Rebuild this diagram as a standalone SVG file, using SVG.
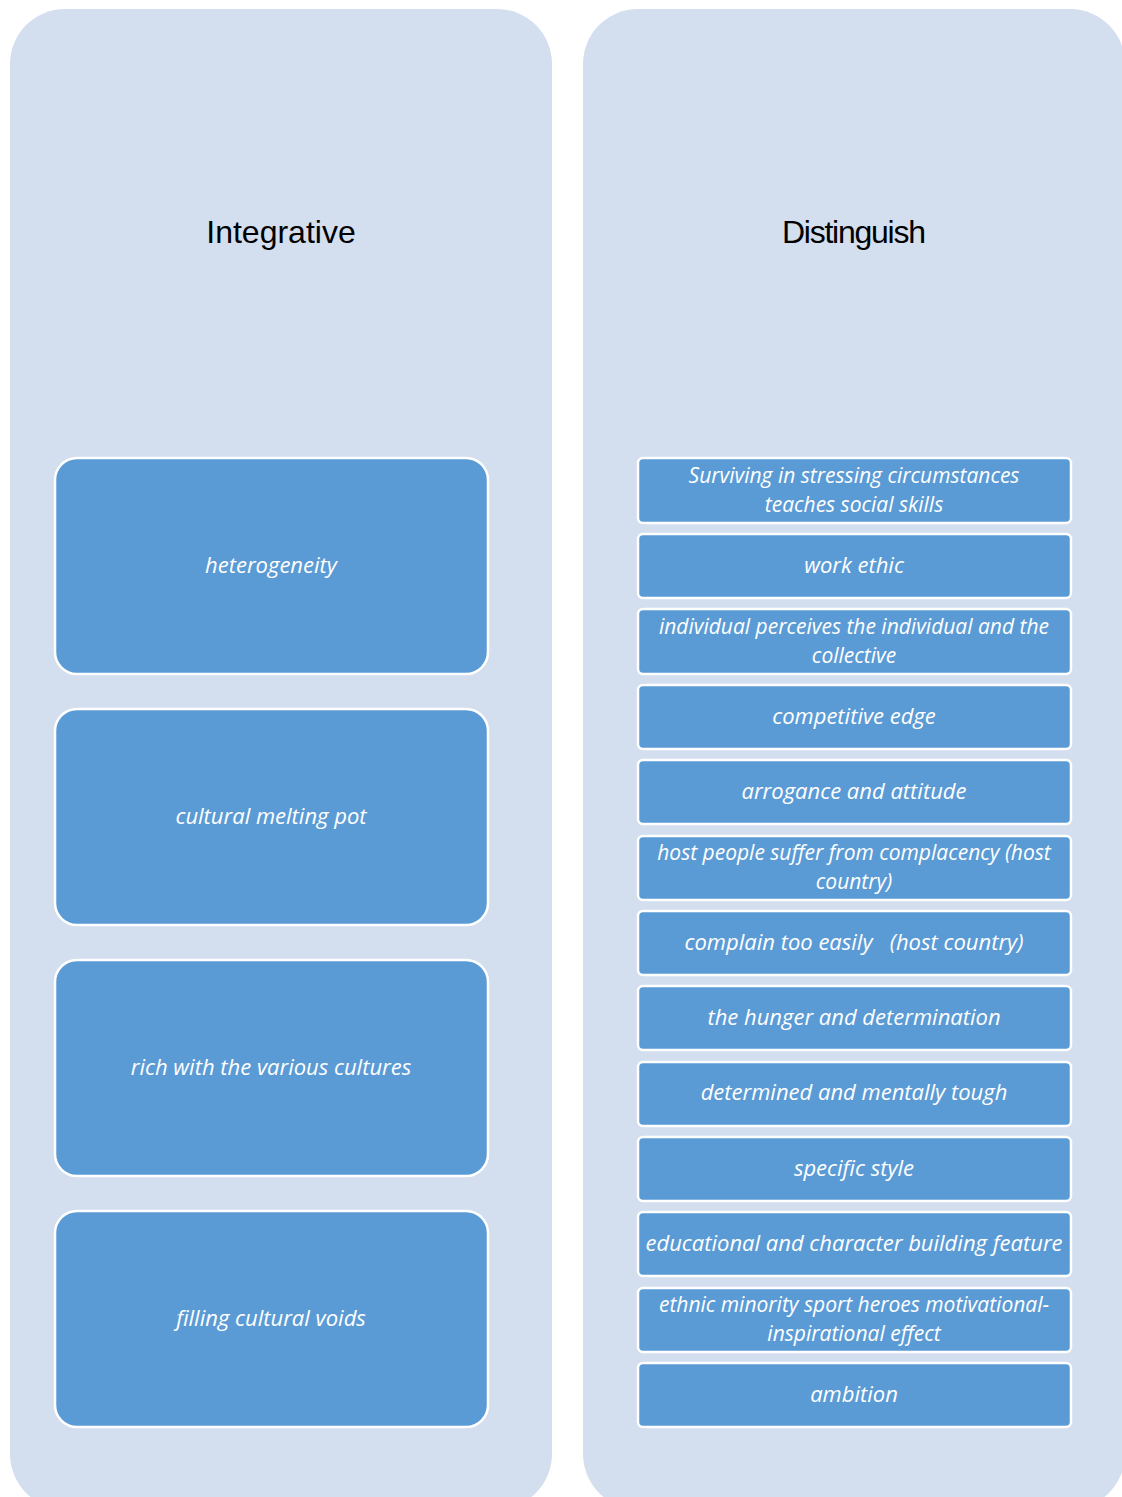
<svg xmlns="http://www.w3.org/2000/svg" width="1122" height="1497" viewBox="0 0 1122 1497">
<style>
.panel{fill:#d3deef}
.big{fill:#5b9bd5;stroke:#fff;stroke-width:2.5}
.small{fill:#5b9bd5;stroke:#fff;stroke-width:2.5}
.t{font-family:"Open Sans",Lato,sans-serif;font-style:italic;font-size:22px;fill:#fff;text-anchor:middle}
.t2{font-size:21px}
.h{font-family:"Liberation Sans",Arial,sans-serif;font-size:32px;fill:#000;text-anchor:middle}
</style>
<rect width="1122" height="1497" fill="#fff"/>
<g id="panel-integrative">
<rect class="panel" x="10" y="9" width="542" height="1500" rx="55"/>
<text class="h" x="281" y="243">Integrative</text>
</g>
<g id="panel-distinguish">
<rect class="panel" x="583" y="9" width="542" height="1500" rx="55"/>
<text class="h" x="854" y="243" textLength="144" lengthAdjust="spacing">Distinguish</text>
</g>
<g id="n-heterogeneity"><rect class="big" x="55" y="458" width="433" height="216" rx="22"/><text class="t" x="271" y="573">heterogeneity</text></g>
<g id="n-melting"><rect class="big" x="55" y="709" width="433" height="216" rx="22"/><text class="t" x="271" y="824">cultural melting pot</text></g>
<g id="n-rich"><rect class="big" x="55" y="960" width="433" height="216" rx="22"/><text class="t" x="271" y="1075">rich with the various cultures</text></g>
<g id="n-filling"><rect class="big" x="55" y="1211" width="433" height="216" rx="22"/><text class="t" x="271" y="1326">filling cultural voids</text></g>
<g id="d1"><rect class="small" x="638" y="458" width="433" height="65" rx="5"/><text class="t t2" x="854" y="483">Surviving in stressing circumstances</text><text class="t t2" x="854" y="511.7">teaches social skills</text></g>
<g id="d2"><rect class="small" x="638" y="534" width="433" height="64" rx="5"/><text class="t" x="854" y="573">work ethic</text></g>
<g id="d3"><rect class="small" x="638" y="609" width="433" height="65" rx="5"/><text class="t t2" x="854" y="634">individual perceives the individual and the</text><text class="t t2" x="854" y="662.7">collective</text></g>
<g id="d4"><rect class="small" x="638" y="685" width="433" height="64" rx="5"/><text class="t" x="854" y="724">competitive edge</text></g>
<g id="d5"><rect class="small" x="638" y="760" width="433" height="64" rx="5"/><text class="t" x="854" y="799">arrogance and attitude</text></g>
<g id="d6"><rect class="small" x="638" y="836" width="433" height="64" rx="5"/><text class="t t2" x="854" y="860">host people suffer from complacency (host</text><text class="t t2" x="854" y="888.7">country)</text></g>
<g id="d7"><rect class="small" x="638" y="911" width="433" height="64" rx="5"/><text class="t" x="854" y="950" xml:space="preserve">complain too easily   (host country)</text></g>
<g id="d8"><rect class="small" x="638" y="986" width="433" height="64" rx="5"/><text class="t" x="854" y="1025">the hunger and determination</text></g>
<g id="d9"><rect class="small" x="638" y="1062" width="433" height="64" rx="5"/><text class="t" x="854" y="1100">determined and mentally tough</text></g>
<g id="d10"><rect class="small" x="638" y="1137" width="433" height="64" rx="5"/><text class="t" x="854" y="1176">specific style</text></g>
<g id="d11"><rect class="small" x="638" y="1212" width="433" height="64" rx="5"/><text class="t" x="854" y="1251">educational and character building feature</text></g>
<g id="d12"><rect class="small" x="638" y="1288" width="433" height="64" rx="5"/><text class="t t2" x="854" y="1312">ethnic minority sport heroes motivational-</text><text class="t t2" x="854" y="1340.7">inspirational effect</text></g>
<g id="d13"><rect class="small" x="638" y="1363" width="433" height="64" rx="5"/><text class="t" x="854" y="1402">ambition</text></g>
<g id="connectors"/>
</svg>
